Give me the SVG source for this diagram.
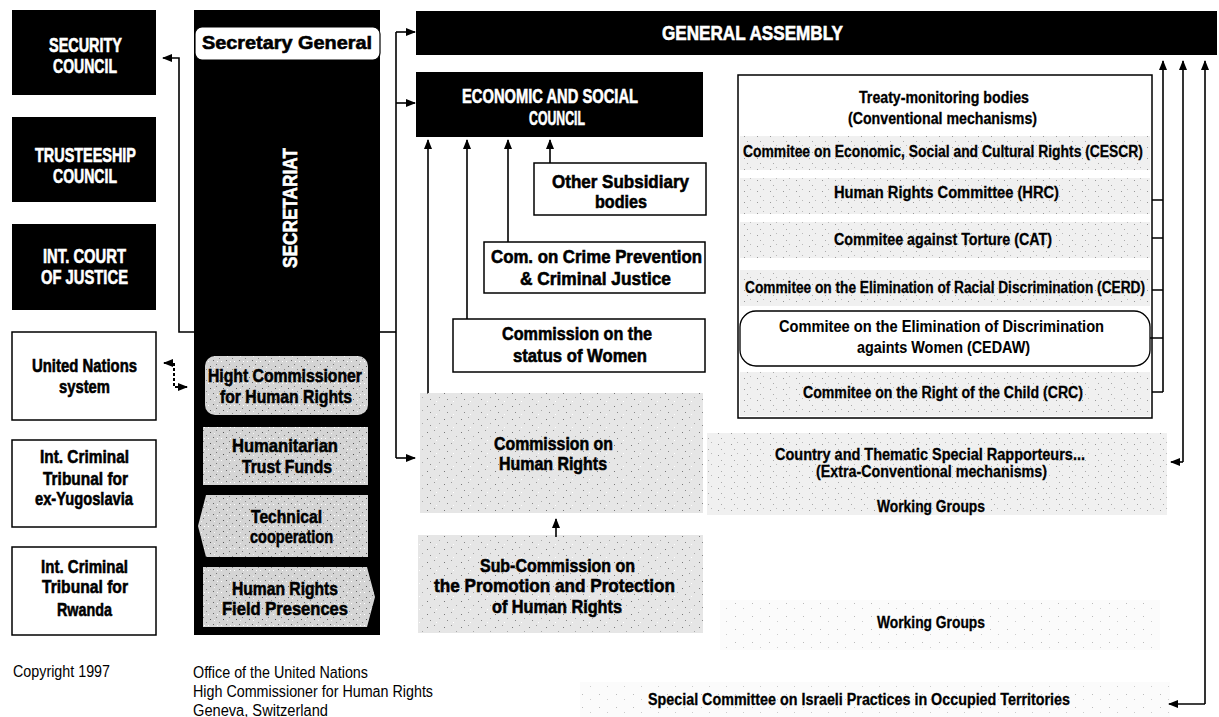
<svg xmlns="http://www.w3.org/2000/svg" width="1219" height="717" viewBox="0 0 1219 717">
<style>
text{font-family:"Liberation Sans",Arial,sans-serif;}
.tw{fill:#fff;stroke:#fff;stroke-width:0.6;font-weight:bold;font-size:20px;}
.tb{fill:#000;stroke:#000;stroke-width:0.6;font-weight:bold;font-size:19px;}
.tt{fill:#000;stroke:#000;stroke-width:0.3;font-weight:bold;font-size:16px;}
.tr{fill:#000;font-weight:normal;font-size:16px;}
.blk{fill:#000;}
.box{fill:#fff;stroke:#000;stroke-width:1.5;}
.ln{fill:none;stroke:#000;stroke-width:1.6;}
.ar{fill:none;stroke:#000;stroke-width:1.6;marker-end:url(#ah);}
</style>
<defs>
<marker id="ah" markerUnits="userSpaceOnUse" markerWidth="10" markerHeight="8" refX="9" refY="4" orient="auto-start-reverse">
<path d="M0,0 L10,4 L0,8 Z" fill="#000"/>
</marker>
<pattern id="sA" width="13" height="11" patternUnits="userSpaceOnUse">
<rect width="13" height="11" fill="#d4d4d4"/>
<rect x="2" y="3" width="1" height="1" fill="#555"/><rect x="8" y="1" width="1" height="1" fill="#777"/>
<rect x="5" y="8" width="1" height="1" fill="#666"/><rect x="11" y="6" width="1" height="1" fill="#888"/>
<rect x="0" y="9" width="1" height="1" fill="#fff"/><rect x="9" y="9" width="1" height="1" fill="#fff"/>
<rect x="6" y="4" width="1" height="1" fill="#f4f4f4"/>
</pattern>
<pattern id="sB" width="17" height="13" patternUnits="userSpaceOnUse">
<rect width="17" height="13" fill="#e6e6e6"/>
<rect x="2" y="3" width="1" height="1" fill="#777"/><rect x="9" y="1" width="1" height="1" fill="#999"/>
<rect x="5" y="9" width="1" height="1" fill="#888"/><rect x="14" y="7" width="1" height="1" fill="#aaa"/>
<rect x="11" y="11" width="1" height="1" fill="#fff"/>
</pattern>
<pattern id="sC" width="13" height="11" patternUnits="userSpaceOnUse">
<rect width="13" height="11" fill="#f0f0f0"/>
<rect x="3" y="4" width="1" height="1" fill="#999"/><rect x="9" y="2" width="1" height="1" fill="#bbb"/>
<rect x="6" y="9" width="1" height="1" fill="#aaa"/>
</pattern>
<pattern id="sD" width="17" height="13" patternUnits="userSpaceOnUse">
<rect width="17" height="13" fill="#fbfbfb"/>
<rect x="4" y="5" width="1" height="1" fill="#bbb"/><rect x="12" y="10" width="1" height="1" fill="#ccc"/>
</pattern>
</defs>

<g id="bg">
<rect x="707" y="433" width="460" height="82" fill="url(#sC)"/>
<rect x="720" y="600" width="440" height="50" fill="url(#sD)"/>
<rect x="580" y="682" width="590" height="35" fill="url(#sD)"/>
</g>

<g id="security-council"><rect class="blk" x="12" y="10" width="144" height="85"/>
<text class="tw" x="49" y="52" textLength="73" lengthAdjust="spacingAndGlyphs">SECURITY</text>
<text class="tw" x="53" y="73" textLength="64" lengthAdjust="spacingAndGlyphs">COUNCIL</text></g>

<g id="trusteeship-council"><rect class="blk" x="12" y="117" width="144" height="85"/>
<text class="tw" x="35" y="162" textLength="101" lengthAdjust="spacingAndGlyphs">TRUSTEESHIP</text>
<text class="tw" x="53" y="183" textLength="64" lengthAdjust="spacingAndGlyphs">COUNCIL</text></g>

<g id="icj"><rect class="blk" x="12" y="224" width="144" height="86"/>
<text class="tw" x="43" y="263" textLength="83" lengthAdjust="spacingAndGlyphs">INT. COURT</text>
<text class="tw" x="41" y="284" textLength="87" lengthAdjust="spacingAndGlyphs">OF JUSTICE</text></g>

<g id="un-system"><rect class="box" x="12" y="332" width="144" height="88"/>
<text class="tb" x="32" y="372" textLength="105" lengthAdjust="spacingAndGlyphs">United Nations</text>
<text class="tb" x="59" y="393" textLength="51" lengthAdjust="spacingAndGlyphs">system</text></g>

<g id="ict-yugoslavia"><rect class="box" x="12" y="440" width="144" height="87"/>
<text class="tb" x="40" y="463" textLength="89" lengthAdjust="spacingAndGlyphs">Int. Criminal</text>
<text class="tb" x="43" y="485" textLength="85" lengthAdjust="spacingAndGlyphs">Tribunal for</text>
<text class="tb" x="35" y="505" textLength="98" lengthAdjust="spacingAndGlyphs">ex-Yugoslavia</text></g>

<g id="ict-rwanda"><rect class="box" x="12" y="547" width="144" height="88"/>
<text class="tb" x="41" y="573" textLength="87" lengthAdjust="spacingAndGlyphs">Int. Criminal</text>
<text class="tb" x="42" y="593" textLength="86" lengthAdjust="spacingAndGlyphs">Tribunal for</text>
<text class="tb" x="57" y="616" textLength="55" lengthAdjust="spacingAndGlyphs">Rwanda</text></g>

<g id="secretariat"><rect class="blk" x="194" y="10" width="186" height="625"/>
<text class="tw" font-size="22" transform="translate(297,268) rotate(-90)" x="0" y="0" textLength="120" lengthAdjust="spacingAndGlyphs">SECRETARIAT</text></g>

<g id="secretary-general"><rect x="195" y="27" width="185" height="33" rx="7" fill="#fff" stroke="#000" stroke-width="1.2"/>
<text class="tb" font-size="20" x="202" y="49" textLength="170" lengthAdjust="spacingAndGlyphs">Secretary General</text></g>

<g id="high-commissioner"><rect x="205" y="356" width="163" height="59" rx="10" fill="url(#sA)"/>
<text class="tb" x="208" y="382" textLength="154" lengthAdjust="spacingAndGlyphs">Hight Commissioner</text>
<text class="tb" x="220" y="403" textLength="132" lengthAdjust="spacingAndGlyphs">for Human Rights</text></g>

<g id="trust-funds"><rect x="203" y="427" width="165" height="58" fill="url(#sA)"/>
<text class="tb" x="232" y="452" textLength="106" lengthAdjust="spacingAndGlyphs">Humanitarian</text>
<text class="tb" x="242" y="473" textLength="90" lengthAdjust="spacingAndGlyphs">Trust Funds</text></g>

<g id="technical-cooperation"><polygon points="206,495 368,495 368,557 206,557 198,526" fill="url(#sA)"/>
<text class="tb" x="251" y="523" textLength="71" lengthAdjust="spacingAndGlyphs">Technical</text>
<text class="tb" x="250" y="543" textLength="83" lengthAdjust="spacingAndGlyphs">cooperation</text></g>

<g id="field-presences"><polygon points="203,567 367,567 375,597 367,627 203,627" fill="url(#sA)"/>
<text class="tb" x="232" y="595" textLength="106" lengthAdjust="spacingAndGlyphs">Human Rights</text>
<text class="tb" x="222" y="615" textLength="126" lengthAdjust="spacingAndGlyphs">Field Presences</text></g>

<g id="general-assembly"><rect class="blk" x="416" y="11" width="801" height="44"/>
<text class="tw" font-size="20" x="662" y="40" textLength="181" lengthAdjust="spacingAndGlyphs">GENERAL ASSEMBLY</text></g>

<g id="ecosoc"><rect class="blk" x="416" y="72" width="287" height="65"/>
<text class="tw" font-size="18" x="462" y="103" textLength="176" lengthAdjust="spacingAndGlyphs">ECONOMIC AND SOCIAL</text>
<text class="tw" font-size="18" x="529" y="125" textLength="56" lengthAdjust="spacingAndGlyphs">COUNCIL</text></g>

<g id="other-subsidiary"><rect class="box" x="534" y="163" width="172" height="52"/>
<text class="tb" x="552" y="188" textLength="137" lengthAdjust="spacingAndGlyphs">Other Subsidiary</text>
<text class="tb" x="595" y="208" textLength="52" lengthAdjust="spacingAndGlyphs">bodies</text></g>

<g id="crime-prevention"><rect class="box" x="484" y="242" width="221" height="51"/>
<text class="tb" x="491" y="263" textLength="211" lengthAdjust="spacingAndGlyphs">Com. on Crime Prevention</text>
<text class="tb" x="520" y="285" textLength="151" lengthAdjust="spacingAndGlyphs">&amp; Criminal Justice</text></g>

<g id="status-women"><rect class="box" x="453" y="319" width="252" height="53"/>
<text class="tb" x="502" y="340" textLength="150" lengthAdjust="spacingAndGlyphs">Commission on the</text>
<text class="tb" x="513" y="362" textLength="134" lengthAdjust="spacingAndGlyphs">status of Women</text></g>

<g id="chr"><rect x="420" y="393" width="283" height="120" fill="url(#sB)"/>
<text class="tb" x="494" y="450" textLength="119" lengthAdjust="spacingAndGlyphs">Commission on</text>
<text class="tb" x="499" y="470" textLength="108" lengthAdjust="spacingAndGlyphs">Human Rights</text></g>

<g id="sub-commission"><rect x="418" y="535" width="285" height="98" fill="url(#sB)"/>
<text class="tb" x="480" y="572" textLength="155" lengthAdjust="spacingAndGlyphs">Sub-Commission on</text>
<text class="tb" x="434" y="592" textLength="241" lengthAdjust="spacingAndGlyphs">the Promotion and Protection</text>
<text class="tb" x="492" y="613" textLength="130" lengthAdjust="spacingAndGlyphs">of Human Rights</text></g>

<g id="treaty-bodies"><rect class="box" x="738" y="75" width="414" height="343"/>
<rect x="740" y="136" width="410" height="34" fill="url(#sC)"/>
<rect x="740" y="178" width="410" height="36" fill="url(#sC)"/>
<rect x="740" y="222" width="410" height="36" fill="url(#sC)"/>
<rect x="740" y="270" width="410" height="36" fill="url(#sC)"/>
<rect x="740" y="372" width="410" height="44" fill="url(#sC)"/>
<text class="tt" x="859" y="103" textLength="170" lengthAdjust="spacingAndGlyphs">Treaty-monitoring bodies</text>
<text class="tt" x="848" y="124" textLength="189" lengthAdjust="spacingAndGlyphs">(Conventional mechanisms)</text>
<text class="tt" x="743" y="157" textLength="400" lengthAdjust="spacingAndGlyphs">Commitee on Economic, Social and Cultural Rights (CESCR)</text>
<text class="tt" x="834" y="198" textLength="225" lengthAdjust="spacingAndGlyphs">Human Rights Committee (HRC)</text>
<text class="tt" x="834" y="245" textLength="218" lengthAdjust="spacingAndGlyphs">Commitee against Torture (CAT)</text>
<text class="tt" x="745" y="293" textLength="400" lengthAdjust="spacingAndGlyphs">Commitee on the Elimination of Racial Discrimination (CERD)</text>
<text class="tt" x="803" y="398" textLength="280" lengthAdjust="spacingAndGlyphs">Commitee on the Right of the Child (CRC)</text></g>

<g id="cedaw"><rect x="740" y="311" width="410" height="55" rx="16" fill="#fff" stroke="#000" stroke-width="1.3"/>
<text class="tt" style="stroke-width:0.1" x="779" y="332" textLength="325" lengthAdjust="spacingAndGlyphs">Commitee on the Elimination of Discrimination</text>
<text class="tt" style="stroke-width:0.1" x="857" y="353" textLength="173" lengthAdjust="spacingAndGlyphs">againts Women (CEDAW)</text></g>

<g id="special-rapporteurs">
<text class="tt" x="775" y="460" textLength="310" lengthAdjust="spacingAndGlyphs">Country and Thematic Special Rapporteurs...</text>
<text class="tt" x="816" y="477" textLength="231" lengthAdjust="spacingAndGlyphs">(Extra-Conventional mechanisms)</text>
<text class="tt" x="877" y="512" textLength="108" lengthAdjust="spacingAndGlyphs">Working Groups</text></g>

<g id="working-groups-2">
<text class="tt" x="877" y="628" textLength="108" lengthAdjust="spacingAndGlyphs">Working Groups</text></g>

<g id="special-committee">
<text class="tt" x="648" y="705" textLength="422" lengthAdjust="spacingAndGlyphs">Special Committee on Israeli Practices in Occupied Territories</text></g>

<g id="footer">
<text class="tr" x="13" y="677" textLength="97" lengthAdjust="spacingAndGlyphs">Copyright 1997</text>
<text class="tr" x="193" y="678" textLength="175" lengthAdjust="spacingAndGlyphs">Office of the United Nations</text>
<text class="tr" x="193" y="697" textLength="240" lengthAdjust="spacingAndGlyphs">High Commissioner for Human Rights</text>
<text class="tr" x="193" y="716" textLength="135" lengthAdjust="spacingAndGlyphs">Geneva, Switzerland</text></g>

<g id="connectors">
<path class="ar" d="M194,332 H179 V58 H163"/>
<path class="ln" d="M380,332 H396"/>
<path class="ln" d="M396,32 V458"/>
<path class="ar" d="M396,32 H415"/>
<path class="ar" d="M396,103 H415"/>
<path class="ar" d="M396,458 H415"/>
<path class="ar" d="M428,393 V140"/>
<path class="ar" d="M467,319 V140"/>
<path class="ar" d="M508,242 V140"/>
<path class="ar" d="M550,163 V140"/>
<path class="ar" d="M556,537 V519"/>
<path class="ln" d="M1152,200 H1163 M1152,238 H1163 M1152,290 H1163 M1150,338 H1163 M1152,392 H1163"/>
<path class="ar" d="M1163,392 V61"/>
<path class="ar" d="M1183,462 V61"/>
<path class="ar" d="M1183,462 H1171"/>
<path class="ar" d="M1205,704 V61"/>
<path class="ar" d="M1205,704 H1169"/>
<path d="M164,363 H174 V387 H187" fill="none" stroke="#000" stroke-width="2" stroke-dasharray="3,2" marker-start="url(#ah)" marker-end="url(#ah)"/>
</g>
</svg>
